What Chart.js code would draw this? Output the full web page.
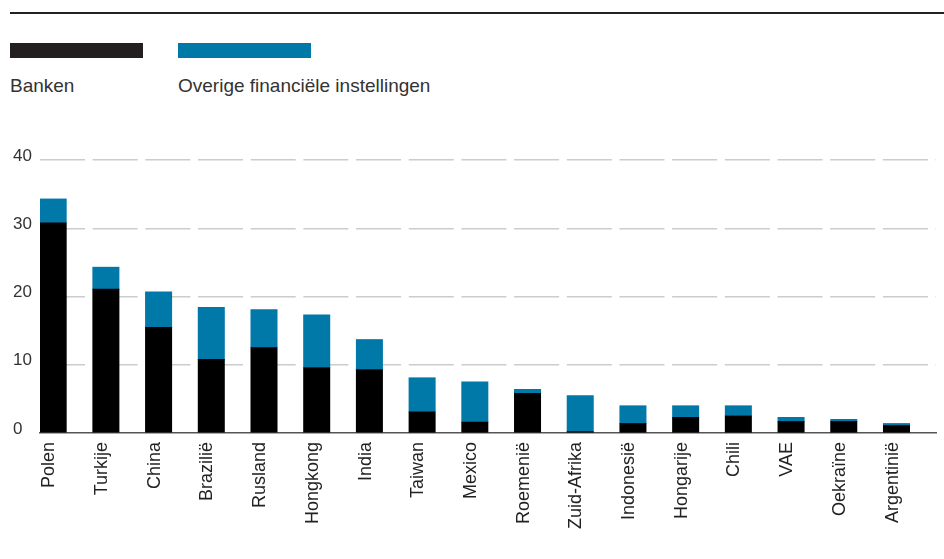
<!DOCTYPE html>
<html>
<head>
<meta charset="utf-8">
<script src="https://cdn.jsdelivr.net/npm/chart.js@4.4.1/dist/chart.umd.min.js"></script>
<style>
  html, body { margin: 0; padding: 0; background: #fff; }
  #wrap { position: relative; width: 944px; height: 559px; font-family: 'Liberation Sans', Arial, sans-serif; }
  #topline { position: absolute; left: 10px; right: 0; top: 12px; height: 1.5px; background: #222; }
  .key { position: absolute; top: 43px; width: 133px; height: 15px; }
  .keytxt { position: absolute; top: 75px; font-size: 19px; color: #333; }
  canvas { position: absolute; left: 0; top: 0; }
</style>
</head>
<body>
<div id="wrap">
  <div id="topline"></div>
  <div class="key" style="left:10px;background:#231f20"></div>
  <div class="key" style="left:178px;background:#0078a8"></div>
  <div class="keytxt" style="left:10px">Banken</div>
  <div class="keytxt" style="left:178px">Overige financiële instellingen</div>
  <canvas id="c" width="944" height="559"></canvas>
</div>
<script>
const landen = ['Polen', 'Turkije', 'China', 'Brazilië', 'Rusland', 'Hongkong', 'India', 'Taiwan',
  'Mexico', 'Roemenië', 'Zuid-Afrika', 'Indonesië', 'Hongarije', 'Chili', 'VAE', 'Oekraïne', 'Argentinië'];
const banken = [30.8, 21.1, 15.5, 10.8, 12.5, 9.6, 9.3, 3.1, 1.6, 5.8, 0.2, 1.4, 2.3, 2.5, 1.7, 1.7, 1.1];
const overige = [3.5, 3.2, 5.2, 7.6, 5.6, 7.7, 4.4, 5.0, 5.9, 0.6, 5.3, 2.6, 1.7, 1.5, 0.6, 0.3, 0.3];
const leeg = landen.map(() => null); // lege stapel zodat de staven links in hun vak staan
const yTicks = [0, 10, 20, 30, 40];

Chart.defaults.font.family = "'Liberation Sans', Arial, sans-serif";

new Chart(document.getElementById('c'), {
  type: 'bar',
  data: {
    labels: landen,
    datasets: [
      { label: 'Banken', data: banken, backgroundColor: '#000000', stack: 'a' },
      { label: 'Overige financiële instellingen', data: overige, backgroundColor: '#0078a8', stack: 'a' },
      { label: '', data: leeg, backgroundColor: 'rgba(0,0,0,0)', stack: 'b' }
    ]
  },
  options: {
    responsive: false,
    animation: false,
    events: [],
    categoryPercentage: 1,
    barPercentage: 1,
    layout: { padding: { top: 160, left: 13, right: 8, bottom: 0 } },
    plugins: { legend: { display: false }, tooltip: { enabled: false } },
    scales: {
      x: {
        stacked: true,
        grid: { display: false, drawTicks: false },
        border: { display: true, color: '#555555', width: 1.5 },
        ticks: {
          color: '#222',
          font: { size: 18 },
          minRotation: 90,
          maxRotation: 90,
          padding: 9,
          labelOffset: -17,
          autoSkip: false
        },
        afterFit: s => { s.height = 126; }
      },
      y: {
        stacked: true,
        min: 0,
        max: 40,
        z: 1,
        afterBuildTicks: s => { s.ticks = yTicks.map(v => ({ value: v })); },
        afterFit: s => { s.width = 27; },
        border: { display: false, dash: [45, 7.68] },
        grid: {
          drawTicks: false,
          color: ctx => ctx.tick && ctx.tick.value === 0 ? 'rgba(0,0,0,0)' : '#cccccc',
          lineWidth: 1.5
        },
        ticks: {
          color: '#333',
          font: { size: 17 },
          crossAlign: 'far',
          padding: 0,
          labelOffset: -4
        }
      }
    }
  }
});
</script>
</body>
</html>
